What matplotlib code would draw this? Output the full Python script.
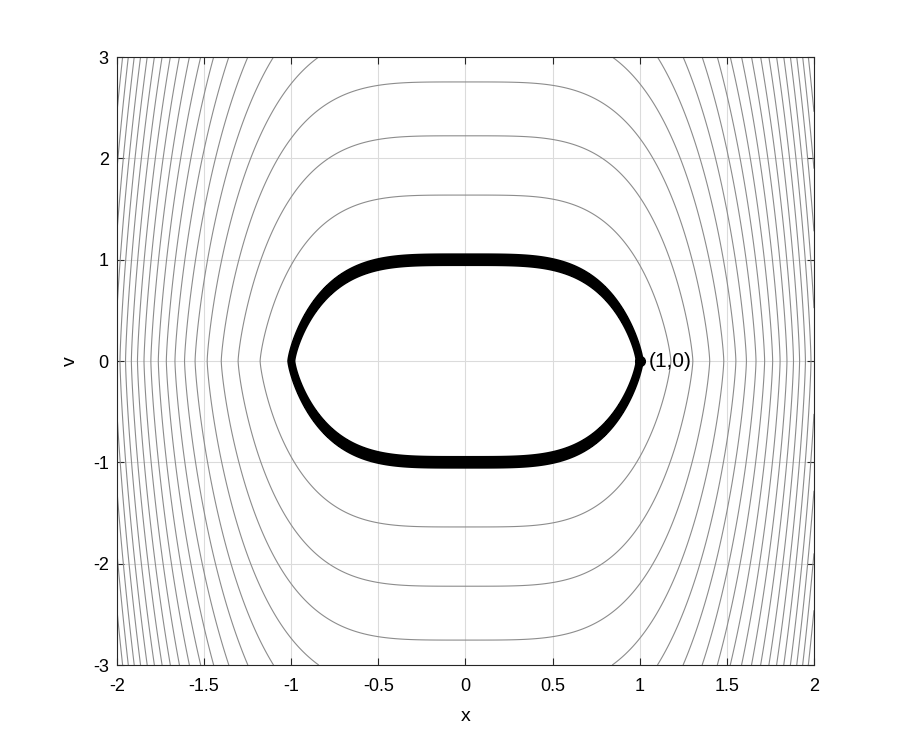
import numpy as np
import matplotlib
matplotlib.use("Agg")
import matplotlib.pyplot as plt

plt.rcParams['font.family'] = ['Liberation Sans', 'DejaVu Sans']

# level curves of H = |v|^(4/3) + x^4, levels
levels = [1.93, 2.90, 3.86, 4.83, 5.80, 6.76, 7.73, 8.69, 9.66, 10.63,
          11.59, 12.56, 13.52, 14.49, 15.46, 16.42, 17.39, 18.35, 19.32]

# the thick orbit through (1,0): thin band of H around 1
orbit_band = [0.93, 1.07]
start_pt = (1, 0)
start_label = '(1,0)'

xticks = [-2, -1.5, -1, -0.5, 0, 0.5, 1, 1.5, 2]
xticklabels = ['-2', '-1.5', '-1', '-0.5', '0', '0.5', '1', '1.5', '2']
yticks = [-3, -2, -1, 0, 1, 2, 3]
yticklabels = ['-3', '-2', '-1', '0', '1', '2', '3']

xg = np.linspace(-2, 2, 401)
vg = np.linspace(-3, 3, 601)
X, V = np.meshgrid(xg, vg)
H = np.abs(V) ** (4 / 3) + X ** 4

fig = plt.figure(figsize=(9, 7.5), dpi=100)
ax = fig.add_axes([0.13, 0.1133, 0.7744, 0.8107])

ax.contour(X, V, H, levels=levels, colors=[(0.55, 0.55, 0.55)], linewidths=0.8)

ax.contourf(X, V, H, levels=orbit_band, colors='black')
ax.contour(X, V, H, levels=orbit_band, colors='black', linewidths=1.5)

ax.plot(start_pt[0], start_pt[1], 'o', color='black', markersize=7)
ax.text(start_pt[0] + 0.05, start_pt[1], start_label, fontsize=15,
        va='center', ha='left')

ax.set_xlim(-2, 2)
ax.set_ylim(-3, 3)
ax.set_xticks(xticks)
ax.set_xticklabels(xticklabels)
ax.set_yticks(yticks)
ax.set_yticklabels(yticklabels)
ax.grid(True, color=(0.86, 0.86, 0.86), linewidth=0.8)
ax.set_axisbelow(True)
ax.tick_params(direction='in', top=True, right=True, labelsize=13,
               length=5, color=(0.15, 0.15, 0.15))
ax.tick_params(axis='x', pad=9)
ax.tick_params(axis='y', pad=6)
for s in ax.spines.values():
    s.set_color((0.15, 0.15, 0.15))
    s.set_linewidth(0.8)
ax.set_xlabel('x', fontsize=14, labelpad=10)
ax.set_ylabel('v', fontsize=14, labelpad=10)

fig.savefig('out.png', dpi=100)
